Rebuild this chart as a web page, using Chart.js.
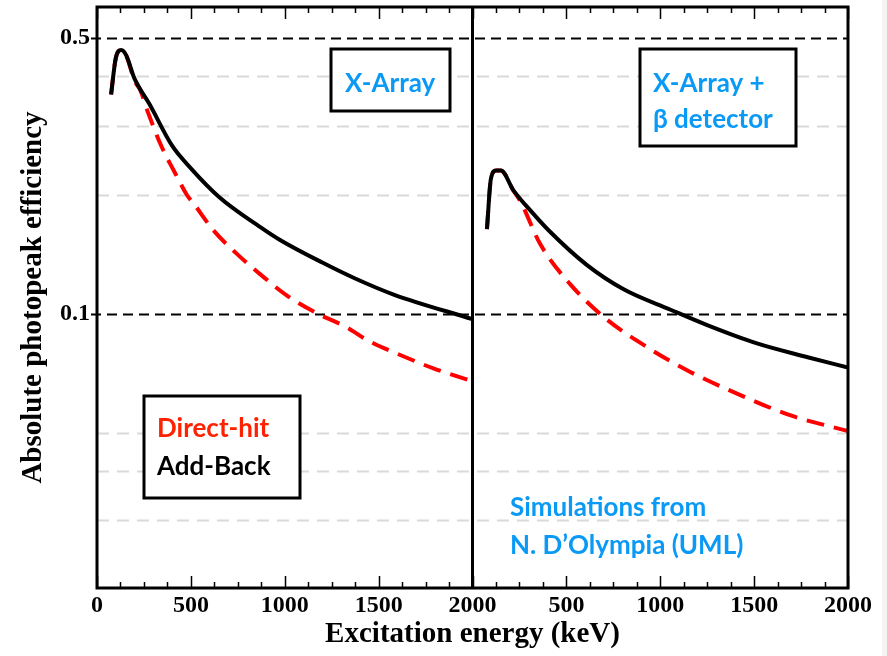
<!DOCTYPE html>
<html>
<head>
<meta charset="utf-8">
<script src="https://cdn.jsdelivr.net/npm/chart.js@4.4.1/dist/chart.umd.min.js"></script>
<style>
  html, body { margin: 0; padding: 0; background: #fff; }
  #wrap { width: 887px; height: 656px; position: relative; }
</style>
</head>
<body>
<div id="wrap"><canvas id="effChart"></canvas></div>
<script>
// left panel: X-Array alone
const energyAB1 = [75, 100, 130, 155, 200, 280, 400, 500, 650, 870, 975, 1200, 1375, 1580, 2000];
const effAB1 = [0.36, 0.445, 0.467, 0.453, 0.395, 0.34, 0.267, 0.234, 0.198, 0.166, 0.154, 0.135, 0.123, 0.112, 0.097];
const energyDH1 = [75, 100, 130, 155, 200, 230, 275, 345, 415, 480, 520, 620, 745, 870, 1010, 1170, 1330, 1440, 1615, 1795, 2000];
const effDH1 = [0.36, 0.445, 0.467, 0.453, 0.39, 0.37, 0.321, 0.265, 0.228, 0.2, 0.189, 0.163, 0.142, 0.126, 0.1115, 0.1005, 0.0925, 0.0858, 0.0787, 0.0727, 0.0675];

// right panel: X-Array + beta detector
const energyAB2 = [77, 98, 126, 151, 219, 308, 405, 610, 805, 1055, 1250, 1515, 1785, 2000];
const effAB2 = [0.164, 0.22, 0.231, 0.231, 0.2055, 0.183, 0.163, 0.133, 0.1155, 0.1025, 0.0937, 0.0842, 0.0777, 0.0731];
const energyDH2 = [77, 98, 126, 151, 219, 255, 360, 520, 700, 930, 1160, 1430, 1695, 2000];
const effDH2 = [0.164, 0.22, 0.231, 0.231, 0.205, 0.193, 0.1506, 0.119, 0.0982, 0.0824, 0.0713, 0.0622, 0.0553, 0.0505];

// axes
const panelWidth = 2000;          // keV per panel, right panel is shifted by this
const xMajor = [0, 500, 1000, 1500, 2000];
const yLabelled = [0.1, 0.5];
const yGray = [0.03, 0.04, 0.05, 0.2, 0.3, 0.4];

const xTickValues = [];
for (let v = 0; v <= 2 * panelWidth; v += 125) xTickValues.push(v);

function points(energies, values, shift) {
    return energies.map((e, i) => ({ x: e + shift, y: values[i] }));
}

const SERIF = '"Liberation Serif", "Times New Roman", serif';
const RED = '#ff0000';
const BLUE = '#0a9af5';

const decorPlugin = {
    id: 'decor',
    beforeDraw(chart) {
        const c = chart.ctx;
        c.save();
        c.fillStyle = '#f4f4f4';
        c.fillRect(882, 0, 5, chart.height);
        c.restore();
    },
    beforeDatasetsDraw(chart) {
        const { ctx, chartArea: a, scales: { y } } = chart;
        ctx.save();
        ctx.lineWidth = 2;
        ctx.strokeStyle = '#d9d9d9';
        ctx.setLineDash([12, 8]);
        yGray.forEach(v => {
            const py = Math.round(y.getPixelForValue(v)) + 0.5;
            ctx.beginPath(); ctx.moveTo(a.left, py); ctx.lineTo(a.right, py); ctx.stroke();
        });
        ctx.strokeStyle = '#000';
        ctx.setLineDash([10, 6]);
        yLabelled.forEach(v => {
            const py = Math.round(y.getPixelForValue(v)) + 0.5;
            ctx.beginPath(); ctx.moveTo(a.left - 6, py); ctx.lineTo(a.right, py); ctx.stroke();
        });
        ctx.restore();
    },
    afterDatasetsDraw(chart) {
        const { ctx, chartArea: a, scales: { x } } = chart;
        ctx.save();
        ctx.strokeStyle = '#000';
        ctx.setLineDash([]);
        // ticks pointing inwards on bottom and top
        ctx.lineWidth = 1.5;
        xTickValues.forEach(v => {
            const px = Math.round(x.getPixelForValue(v)) + 0.5;
            const len = (v % 500 === 0) ? 12 : 6;
            ctx.beginPath();
            ctx.moveTo(px, a.bottom); ctx.lineTo(px, a.bottom - len);
            ctx.moveTo(px, a.top); ctx.lineTo(px, a.top + len);
            ctx.stroke();
        });
        ctx.lineWidth = 3;
        ctx.strokeRect(a.left, a.top, a.right - a.left, a.bottom - a.top);
        const mid = x.getPixelForValue(panelWidth);
        ctx.beginPath(); ctx.moveTo(mid, a.top); ctx.lineTo(mid, a.bottom); ctx.stroke();
        ctx.restore();
    },
    afterDraw(chart) {
        const ctx = chart.ctx;
        ctx.save();
        ctx.lineWidth = 3;
        ctx.strokeStyle = '#000';
        const box = (x0, y0, x1, y1) => {
            ctx.fillStyle = '#fff';
            ctx.fillRect(x0, y0, x1 - x0, y1 - y0);
            ctx.strokeRect(x0, y0, x1 - x0, y1 - y0);
        };
        box(331, 49, 450, 111);
        box(640, 49, 796, 146);
        box(144, 396, 300, 498);
        ctx.font = 'bold 26px Lato, "Open Sans", sans-serif';
        ctx.textBaseline = 'alphabetic';
        ctx.textAlign = 'left';
        ctx.fillStyle = BLUE;
        ctx.fillText('X-Array', 345, 92);
        ctx.fillText('X-Array +', 653, 92);
        ctx.fillText('β detector', 653, 128);
        ctx.fillText('Simulations from', 510, 516);
        ctx.fillText('N. D\u2019Olympia (UML)', 510, 554);
        ctx.fillStyle = '#ff2200';
        ctx.fillText('Direct-hit', 157, 437);
        ctx.fillStyle = '#000';
        ctx.fillText('Add-Back', 157, 475);
        ctx.restore();
    }
};

const ctx = document.getElementById('effChart').getContext('2d');

const effChart = new Chart(ctx, {
    type: 'line',
    data: {
        datasets: [
            { label: 'Add-Back', data: points(energyAB1, effAB1, 0), borderColor: '#000', borderWidth: 4, order: 0 },
            { label: 'Direct-hit', data: points(energyDH1, effDH1, 0), borderColor: RED, borderWidth: 4, borderDash: [18, 10], order: 1 },
            { label: 'Add-Back', data: points(energyAB2, effAB2, panelWidth), borderColor: '#000', borderWidth: 4, order: 0 },
            { label: 'Direct-hit', data: points(energyDH2, effDH2, panelWidth), borderColor: RED, borderWidth: 4, borderDash: [18, 10], order: 1 },
        ],
    },
    options: {
        responsive: true,
        maintainAspectRatio: false,
        animation: false,
        layout: { padding: { top: 7, right: 39, left: 0, bottom: 0 } },
        plugins: { legend: { display: false }, tooltip: { enabled: false } },
        elements: {
            point: { radius: 0 },
            line: { cubicInterpolationMode: 'monotone', fill: false },
        },
        scales: {
            x: {
                type: 'linear',
                min: 0,
                max: 2 * panelWidth,
                afterBuildTicks: s => { s.ticks = xTickValues.map(v => ({ value: v })); },
                afterFit: s => { s.height = 68; s.paddingLeft = 0; s.paddingRight = 0; },
                grid: { display: false, drawTicks: false },
                border: { display: false },
                ticks: {
                    autoSkip: false,
                    maxRotation: 0,
                    padding: 3,
                    color: '#000',
                    font: { family: SERIF, size: 24, weight: 'bold' },
                    callback: v => {
                        const e = v <= panelWidth ? v : v - panelWidth;
                        return xMajor.includes(e) ? String(e) : '';
                    },
                },
                title: {
                    display: true,
                    text: 'Excitation energy (keV)',
                    color: '#000',
                    font: { family: SERIF, size: 29, weight: 'bold' },
                    padding: { top: 0, bottom: 4 },
                },
            },
            y: {
                type: 'logarithmic',
                min: 0.0202,
                max: 0.6,
                afterBuildTicks: s => { s.ticks = yGray.concat(yLabelled).map(v => ({ value: v })); },
                afterFit: s => { s.width = 97; s.paddingTop = 0; s.paddingBottom = 0; },
                grid: { display: false, drawTicks: false },
                border: { display: false },
                ticks: {
                    autoSkip: false,
                    padding: 7,
                    color: '#000',
                    font: { family: SERIF, size: 24, weight: 'bold' },
                    callback: v => (yLabelled.includes(v) ? String(v) : ''),
                },
                title: {
                    display: true,
                    text: 'Absolute photopeak efficiency',
                    color: '#000',
                    font: { family: SERIF, size: 29, weight: 'bold' },
                    padding: { top: 16, bottom: 0 },
                },
            },
        },
    },
    plugins: [decorPlugin],
});
</script>
</body>
</html>
